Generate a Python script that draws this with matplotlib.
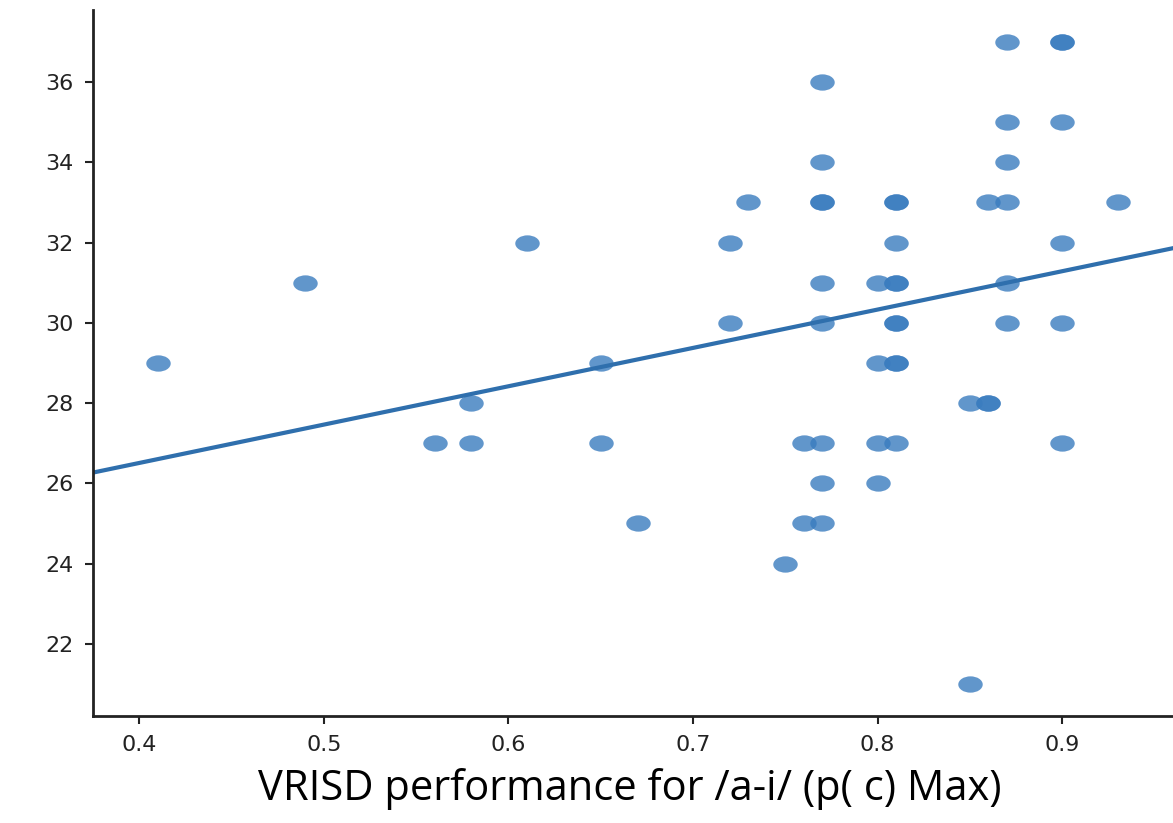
import numpy as np
import matplotlib
matplotlib.use('Agg')
import matplotlib.pyplot as plt
from matplotlib.path import Path

# VRISD performance (x) vs score (y); repeated rows are overlapping dots
perf = [0.41, 0.49, 0.56, 0.58, 0.58, 0.61, 0.65, 0.65, 0.67,
        0.72, 0.72, 0.73, 0.75, 0.76, 0.76,
        0.77, 0.77, 0.77, 0.77, 0.77, 0.77, 0.77, 0.77, 0.77,
        0.80, 0.80, 0.80, 0.80,
        0.81, 0.81, 0.81, 0.81, 0.81, 0.81, 0.81, 0.81, 0.81, 0.81,
        0.85, 0.85, 0.86, 0.86, 0.86,
        0.87, 0.87, 0.87, 0.87, 0.87, 0.87,
        0.90, 0.90, 0.90, 0.90, 0.90, 0.90, 0.93]
score = [29, 31, 27, 28, 27, 32, 29, 27, 25,
         32, 30, 33, 24, 27, 25,
         36, 34, 33, 33, 31, 30, 27, 26, 25,
         31, 29, 27, 26,
         33, 33, 32, 31, 31, 30, 30, 29, 29, 27,
         28, 21, 28, 28, 33,
         37, 35, 34, 33, 31, 30,
         37, 37, 35, 32, 30, 27, 33]

x_ticks = [0.4, 0.5, 0.6, 0.7, 0.8, 0.9]
y_ticks = [22, 24, 26, 28, 30, 32, 34, 36]

x = np.array(perf)
y = np.array(score)
slope, icpt = np.polyfit(x, y, 1)

# the original picture is stretched sideways, so the dots are ellipses
circ = Path.unit_circle()
ell = Path(circ.vertices * [1.5, 1.0], circ.codes)

fig = plt.figure(figsize=(11.73, 8.23), dpi=100)
ax = fig.add_axes([0.0793, 0.130, 0.9207, 0.858])

ax.scatter(x, y, s=310, marker=ell, color='#3a7cbf', alpha=0.8, linewidths=0)

xlim = (0.375, 0.96)
xx = np.array(xlim)
ax.plot(xx, icpt + slope * xx, color='#2f6fad', lw=3)

ax.set_xlim(xlim)
ax.set_ylim(20.2, 37.8)
ax.set_xticks(x_ticks)
ax.set_yticks(y_ticks)
ax.tick_params(labelsize=16, colors='#222222', length=6, width=1.5, pad=8)
for s in ['top', 'right']:
    ax.spines[s].set_visible(False)
for s in ['left', 'bottom']:
    ax.spines[s].set_linewidth(2)
    ax.spines[s].set_color('#222222')

fig.text(0.537, 0.041, 'VRISD performance for /a-i/ (p( c) Max)', ha='center', va='center',
         fontsize=30, family='Open Sans', color='black')

plt.savefig('out.png', dpi=100)
